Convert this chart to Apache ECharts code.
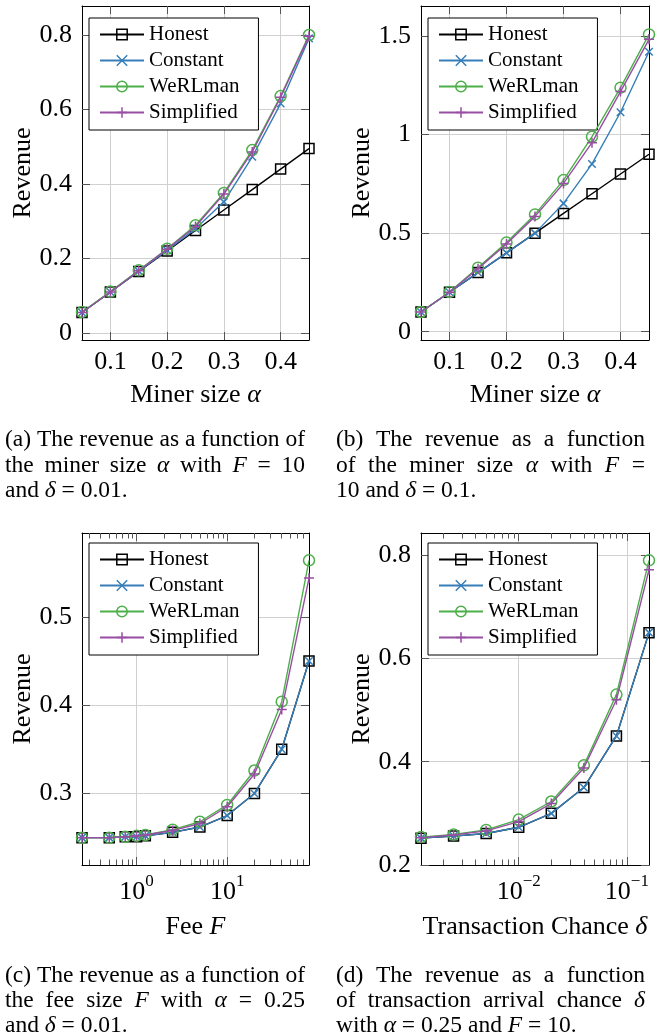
<!DOCTYPE html>
<html>
<head>
<meta charset="utf-8">
<script src="https://cdn.jsdelivr.net/npm/echarts@6.0.0/dist/echarts.min.js"></script>
<style>
  html, body { margin: 0; padding: 0; background: #fff; }
  #chart { width: 662px; height: 1034px; }
</style>
</head>
<body>
<div id="chart"></div>
<script>
// ---- data ----
var seriesNames = ['Honest', 'Constant', 'WeRLman', 'Simplified'];

// (a) F = 10, delta = 0.01
var alphaA = [0.05, 0.1, 0.15, 0.2, 0.25, 0.3, 0.35, 0.4, 0.45];
var honestA = [0.055, 0.11, 0.165, 0.22, 0.275, 0.33, 0.385, 0.44, 0.495];
var constantA = [0.055, 0.11, 0.166, 0.222, 0.28, 0.352, 0.473, 0.616, 0.791];
var werlmanA = [0.056, 0.111, 0.168, 0.226, 0.289, 0.376, 0.491, 0.636, 0.8];
var simplifiedA = [0.055, 0.11, 0.167, 0.225, 0.286, 0.373, 0.486, 0.633, 0.797];

// (b) F = 10, delta = 0.1
var alphaB = [0.05, 0.1, 0.15, 0.2, 0.25, 0.3, 0.35, 0.4, 0.45];
var honestB = [0.1, 0.2, 0.3, 0.4, 0.5, 0.6, 0.7, 0.8, 0.9];
var constantB = [0.1, 0.2, 0.3, 0.4, 0.5, 0.651, 0.851, 1.113, 1.42];
var werlmanB = [0.1, 0.201, 0.325, 0.452, 0.595, 0.769, 0.989, 1.238, 1.508];
var simplifiedB = [0.1, 0.2, 0.32, 0.445, 0.585, 0.752, 0.959, 1.218, 1.483];

// (c) alpha = 0.25, delta = 0.01
var feeC = [0.25, 0.5, 0.75, 1, 1.25, 2.5, 5, 10, 20, 40, 80];
var honestC = [0.25, 0.25, 0.251, 0.251, 0.252, 0.256, 0.262, 0.275, 0.3, 0.35, 0.45];
var constantC = [0.25, 0.25, 0.251, 0.251, 0.252, 0.256, 0.262, 0.275, 0.3, 0.35, 0.45];
var werlmanC = [0.25, 0.25, 0.251, 0.252, 0.253, 0.259, 0.268, 0.287, 0.326, 0.404, 0.564];
var simplifiedC = [0.25, 0.25, 0.251, 0.252, 0.253, 0.258, 0.266, 0.285, 0.322, 0.395, 0.544];

// (d) alpha = 0.25, F = 10
var deltaD = [0.00125, 0.0025, 0.005, 0.01, 0.02, 0.04, 0.08, 0.16];
var honestD = [0.252, 0.256, 0.261, 0.273, 0.3, 0.35, 0.45, 0.65];
var constantD = [0.252, 0.256, 0.261, 0.273, 0.3, 0.35, 0.45, 0.65];
var werlmanD = [0.254, 0.259, 0.268, 0.288, 0.323, 0.393, 0.53, 0.79];
var simplifiedD = [0.253, 0.258, 0.266, 0.284, 0.319, 0.388, 0.52, 0.772];

// tick values
var xTicksAB = [0.1, 0.2, 0.3, 0.4];
var yTicksA = [0, 0.2, 0.4, 0.6, 0.8];
var yTicksB = [0, 0.5, 1, 1.5];
var yTicksC = [0.3, 0.4, 0.5];
var yTicksD = [0.2, 0.4, 0.6, 0.8];
var xTicksC = [1, 10];
var xMinorC = [0.3, 0.4, 0.5, 0.6, 0.7, 0.8, 0.9, 2, 3, 4, 5, 6, 7, 8, 9, 20, 30, 40, 50, 60, 70];
var xTicksD = [0.01, 0.1];
var xMinorD = [0.002, 0.003, 0.004, 0.005, 0.006, 0.007, 0.008, 0.009, 0.02, 0.03, 0.04, 0.05, 0.06, 0.07, 0.08, 0.09];

// ---- styling ----
var FONT = 'Liberation Serif';
var tickColor = '#555';
var gridColor = '#d0d0d0';
var colors = ['#000000', '#377eb8', '#4daf4a', '#984ea3'];
var symbols = ['rect', 'path://M0,0L10,10M10,0L0,10', 'circle', 'path://M5,0L5,10M0,5L10,5'];
var symbolSizes = [10, 7.5, 11, 10];
var hollow = [true, false, true, false];

var italicRich = {
  i: { fontFamily: FONT, fontSize: 26, fontStyle: 'italic', color: '#000' }
};
var logRich = {
  b: { fontFamily: FONT, fontSize: 26, lineHeight: 32, verticalAlign: 'bottom', color: '#000' },
  s: { fontFamily: FONT, fontSize: 17, lineHeight: 17, verticalAlign: 'top', color: '#000' }
};

function logFormatter(v) {
  var e = Math.round(Math.log10(v));
  return '{b|10}{s|' + (e < 0 ? '\u2212' + (-e) : e) + '}';
}

function mainX(g, type, min, max, ticks, name, fmt) {
  var isLog = type === 'log';
  return {
    type: type, logBase: 10, gridIndex: g, position: 'bottom', min: min, max: max,
    name: name, nameLocation: 'middle', nameGap: isLog ? 49 : 42, nameMoveOverlap: false,
    nameTextStyle: { fontFamily: FONT, fontSize: 26, color: '#000', rich: italicRich },
    axisLine: { show: true, onZero: false, lineStyle: { color: '#000', width: 1 } },
    axisTick: { show: true, inside: true, length: 8, customValues: ticks, lineStyle: { color: tickColor } },
    axisLabel: { show: true, customValues: ticks, margin: isLog ? 8 : 9, formatter: fmt,
      fontFamily: FONT, fontSize: 26, color: '#000', rich: logRich },
    splitLine: { show: true, lineStyle: { color: gridColor, width: 1 } }
  };
}

function extraX(g, type, min, max, ticks, pos, len, line) {
  return {
    type: type, logBase: 10, gridIndex: g, position: pos, min: min, max: max,
    axisLine: { show: line, onZero: false, lineStyle: { color: '#000', width: 1 } },
    axisTick: { show: true, inside: true, length: len, customValues: ticks, lineStyle: { color: tickColor } },
    axisLabel: { show: false }, splitLine: { show: false }
  };
}

function mainY(g, min, max, ticks) {
  return {
    type: 'value', gridIndex: g, position: 'left', min: min, max: max,
    name: 'Revenue', nameLocation: 'middle', nameGap: 46, nameMoveOverlap: false,
    nameTextStyle: { fontFamily: FONT, fontSize: 26, color: '#000' },
    axisLine: { show: true, onZero: false, lineStyle: { color: '#000', width: 1 } },
    axisTick: { show: true, inside: true, length: 8, customValues: ticks, lineStyle: { color: tickColor } },
    axisLabel: { show: true, customValues: ticks, margin: 10, fontFamily: FONT, fontSize: 26, color: '#000' },
    splitLine: { show: true, lineStyle: { color: gridColor, width: 1 } }
  };
}

function mirrorY(g, min, max, ticks) {
  return {
    type: 'value', gridIndex: g, position: 'right', min: min, max: max,
    axisLine: { show: true, onZero: false, lineStyle: { color: '#000', width: 1 } },
    axisTick: { show: true, inside: true, length: 8, customValues: ticks, lineStyle: { color: tickColor } },
    axisLabel: { show: false }, splitLine: { show: false }
  };
}

function makeSeries(xi, yi, xs, ysList) {
  return ysList.map(function (ys, k) {
    return {
      name: seriesNames[k], type: 'line', xAxisIndex: xi, yAxisIndex: yi,
      data: xs.map(function (x, i) { return [x, ys[i]]; }),
      symbol: symbols[k], symbolSize: symbolSizes[k], showSymbol: true,
      lineStyle: { color: colors[k], width: 1.4 },
      itemStyle: { color: hollow[k] ? 'rgba(0,0,0,0)' : colors[k], borderColor: colors[k], borderWidth: 1.5 },
      z: 2 + k, silent: true
    };
  });
}

function makeLegend(left, top) {
  return {
    orient: 'vertical', left: left, top: top, data: seriesNames, selectedMode: false,
    itemWidth: 44, itemHeight: 13, itemGap: 5, padding: [6, 19, 7, 10],
    borderColor: '#000', borderWidth: 1, backgroundColor: '#fff', borderRadius: 0,
    itemStyle: { borderWidth: 1.5 },
    textStyle: { fontFamily: FONT, fontSize: 21, lineHeight: 21, color: '#000' }
  };
}

// ---- captions (justified like the LaTeX subcaptions) ----
var capSize = 23.5;
var measureCtx = document.createElement('canvas').getContext('2d');
function measure(word) {
  var w = 0;
  word.split(/(\{i\|[^}]*\})/).forEach(function (part) {
    if (!part) return;
    var m = part.match(/^\{i\|(.*)\}$/);
    measureCtx.font = (m ? 'italic ' : '') + capSize + 'px "' + FONT + '"';
    w += measureCtx.measureText(m ? m[1] : part).width;
  });
  return w;
}
function caption(x0, x1, y0, gap, lines) {
  var els = [];
  lines.forEach(function (line, li) {
    var justify = li < lines.length - 1;
    var words = line.split(' ');
    var widths = words.map(measure);
    var total = widths.reduce(function (a, b) { return a + b; }, 0);
    var space = justify ? (x1 - x0 - total) / (words.length - 1) : measure(' ');
    var x = x0;
    words.forEach(function (w, i) {
      els.push({
        type: 'text', x: x, y: y0 + li * gap, silent: true,
        style: {
          text: w, fontFamily: FONT, fontSize: capSize, fill: '#000',
          align: 'left', verticalAlign: 'middle',
          rich: { i: { fontFamily: FONT, fontSize: capSize, fontStyle: 'italic' } }
        }
      });
      x += widths[i] + space;
    });
  });
  return els;
}

var captionA = ['(a) The revenue as a function of', 'the miner size {i|α} with {i|F} = 10', 'and {i|δ} = 0.01.'];
var captionB = ['(b) The revenue as a function', 'of the miner size {i|α} with {i|F} =', '10 and {i|δ} = 0.1.'];
var captionC = ['(c) The revenue as a function of', 'the fee size {i|F} with {i|α} = 0.25', 'and {i|δ} = 0.01.'];
var captionD = ['(d) The revenue as a function', 'of transaction arrival chance {i|δ}', 'with {i|α} = 0.25 and {i|F} = 10.'];

var chart = echarts.init(document.getElementById('chart'), null, { renderer: 'canvas' });

var grids = [
  { left: 82, top: 6, width: 227, height: 334 },
  { left: 421, top: 6, width: 228, height: 334 },
  { left: 82, top: 533, width: 227, height: 332 },
  { left: 421, top: 533, width: 228, height: 332 }
].map(function (g) {
  g.containLabel = false; g.outerBoundsMode = 'none'; g.show = false;
  return g;
});

var option = {
  animation: false,
  backgroundColor: '#fff',
  grid: grids,
  xAxis: [
    mainX(0, 'value', 0.05, 0.45, xTicksAB, 'Miner size {i|α}'),
    extraX(0, 'value', 0.05, 0.45, xTicksAB, 'top', 8, true),
    mainX(1, 'value', 0.05, 0.45, xTicksAB, 'Miner size {i|α}'),
    extraX(1, 'value', 0.05, 0.45, xTicksAB, 'top', 8, true),
    mainX(2, 'log', 0.25, 80, xTicksC, 'Fee {i|F}', logFormatter),
    extraX(2, 'log', 0.25, 80, xMinorC, 'bottom', 5.5, false),
    extraX(2, 'log', 0.25, 80, xTicksC, 'top', 8, true),
    extraX(2, 'log', 0.25, 80, xMinorC, 'top', 5.5, false),
    mainX(3, 'log', 0.00125, 0.16, xTicksD, 'Transaction Chance {i|δ}', logFormatter),
    extraX(3, 'log', 0.00125, 0.16, xMinorD, 'bottom', 5.5, false),
    extraX(3, 'log', 0.00125, 0.16, xTicksD, 'top', 8, true),
    extraX(3, 'log', 0.00125, 0.16, xMinorD, 'top', 5.5, false)
  ],
  yAxis: [
    mainY(0, -0.019, 0.878, yTicksA), mirrorY(0, -0.019, 0.878, yTicksA),
    mainY(1, -0.042, 1.652, yTicksB), mirrorY(1, -0.042, 1.652, yTicksB),
    mainY(2, 0.219, 0.595, yTicksC), mirrorY(2, 0.219, 0.595, yTicksC),
    mainY(3, 0.2, 0.843, yTicksD), mirrorY(3, 0.2, 0.843, yTicksD)
  ],
  legend: [makeLegend(89, 18), makeLegend(428, 18), makeLegend(89, 543), makeLegend(428, 543)],
  series: [].concat(
    makeSeries(0, 0, alphaA, [honestA, constantA, werlmanA, simplifiedA]),
    makeSeries(2, 2, alphaB, [honestB, constantB, werlmanB, simplifiedB]),
    makeSeries(4, 4, feeC, [honestC, constantC, werlmanC, simplifiedC]),
    makeSeries(8, 6, deltaD, [honestD, constantD, werlmanD, simplifiedD])
  ),
  graphic: [].concat(
    caption(5, 305, 440, 25.5, captionA),
    caption(336, 645, 440, 25.5, captionB),
    caption(5, 305, 976, 25, captionC),
    caption(336, 645, 976, 25, captionD)
  )
};

chart.setOption(option);
</script>
</body>
</html>
